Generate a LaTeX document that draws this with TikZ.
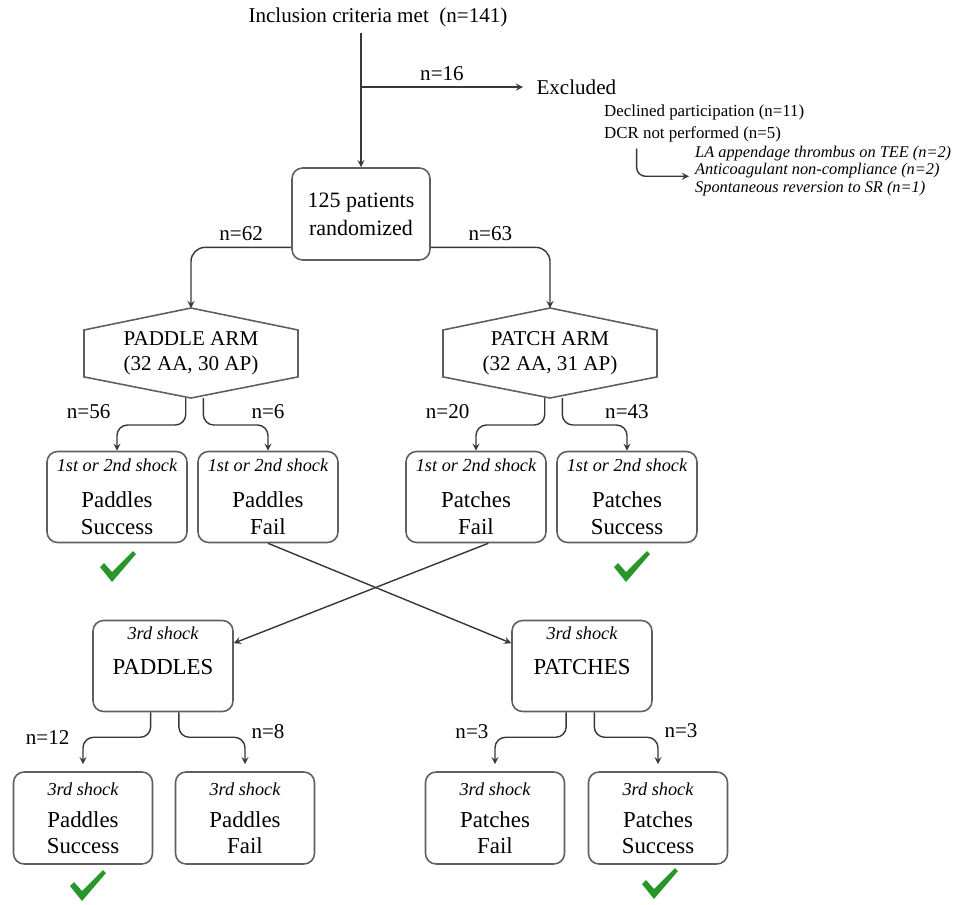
\documentclass[tikz,border=0pt]{standalone}
\usepackage{fontspec}
\setmainfont{Liberation Serif}
\usetikzlibrary{arrows}
\definecolor{linegray}{RGB}{55,55,55}
\definecolor{boxgray}{RGB}{95,95,95}
\definecolor{tickgreen}{RGB}{40,150,40}
\tikzstyle{box} = [rectangle, rounded corners=6pt, draw=boxgray, line width=0.9pt, minimum width=2.8cm, minimum height=1.82cm, inner sep=0pt, align=center, font=\fontsize{13}{15.5}\selectfont]
\tikzstyle{lowbox} = [box, minimum width=2.78cm, minimum height=1.84cm, font=\fontsize{13}{14.4}\selectfont]
\tikzstyle{armhex} = [minimum width=4.28cm, minimum height=1.8cm, outer sep=0pt, align=center, font=\fontsize{12}{14.4}\selectfont]
\tikzstyle{hexline} = [draw=boxgray, line width=0.9pt]
\tikzstyle{nlabel} = [font=\fontsize{12}{14}\selectfont]
\tikzstyle{arrow} = [draw=linegray, line width=0.8pt,->,>=stealth]
\tikzset{okmark/.pic={\fill[tickgreen] (-18,-1) -- (-14,-5) -- (-6,4) -- (15,-17) -- (18,-14) -- (-6,14) -- cycle;}}
\newcommand{\shock}[1]{{\fontsize{10.4}{12}\selectfont\itshape #1}}
\newcommand{\hexoutline}[1]{\draw[hexline] (#1.north) -- ([yshift=-12.5pt]#1.north east) -- ([yshift=12pt]#1.south east) -- (#1.south) -- ([yshift=12pt]#1.south west) -- ([yshift=-12.5pt]#1.north west) -- cycle;}

\begin{document}
\begin{tikzpicture}[x=0.02cm, y=-0.02cm]
    \useasboundingbox (0,0) rectangle (975,904);

    % enrolment and exclusions
    \node (incl) at (378,17) [nlabel] {Inclusion criteria met\enspace(n=141)};
    \node (rand) at (361,214) [box, minimum width=2.76cm, minimum height=1.84cm, font=\fontsize{12.5}{16}\selectfont] {125 patients\\randomized};
    \coordinate (split) at (361,87);
    \node (excl) at (523,87) [nlabel, anchor=west, inner xsep=7.5pt] {Excluded};
    \node (reasons) at (598,99) [anchor=north west, align=left, font=\fontsize{9.6}{12.5}\selectfont] {Declined participation (n=11)\\DCR not performed (n=5)};
    \node (subreasons) at (689,171) [anchor=west, align=left, font=\fontsize{9.3}{10.2}\selectfont\itshape] {LA appendage thrombus on TEE (n=2)\\Anticoagulant non-compliance (n=2)\\Spontaneous reversion to SR (n=1)};

    % randomized arms
    \node (paddle) at (191,353) [armhex] {PADDLE ARM\\(32 AA, 30 AP)};
    \hexoutline{paddle}
    \node (patch) at (550,353) [armhex] {PATCH ARM\\(32 AA, 31 AP)};
    \hexoutline{patch}

    % 1st or 2nd shock
    \node (padok) at (117,497) [box] {\shock{1st or 2nd shock}\\[5pt]Paddles\\Success};
    \node (padfail) at (268,497) [box] {\shock{1st or 2nd shock}\\[5pt]Paddles\\Fail};
    \node (patfail) at (476,497) [box] {\shock{1st or 2nd shock}\\[5pt]Patches\\Fail};
    \node (patok) at (627,497) [box] {\shock{1st or 2nd shock}\\[5pt]Patches\\Success};

    % crossover, 3rd shock
    \node (pad3) at (163,666) [box] {\shock{3rd shock}\\[4.5pt]PADDLES\\[2pt]\mbox{}};
    \node (pat3) at (582,666) [box] {\shock{3rd shock}\\[4.5pt]PATCHES\\[2pt]\mbox{}};

    \node (pad3ok) at (83,818) [lowbox] {\shock{3rd shock}\\[4pt]Paddles\\Success};
    \node (pad3fail) at (245,818) [lowbox] {\shock{3rd shock}\\[4pt]Paddles\\Fail};
    \node (pat3fail) at (495,818) [lowbox] {\shock{3rd shock}\\[4pt]Patches\\Fail};
    \node (pat3ok) at (658,818) [lowbox] {\shock{3rd shock}\\[4pt]Patches\\Success};

    \pic at (118,568) {okmark};
    \pic at (632,568) {okmark};
    \pic at (88,887) {okmark};
    \pic at (660,885) {okmark};

    % connectors
    \draw [arrow] (incl.south -| rand.north) -- (rand.north);
    \draw [arrow] (split) -- node[nlabel, above] {n=16} (excl.west);
    \draw [arrow, rounded corners=5pt] ([xshift=22pt]reasons.south west) |- ([yshift=-3pt]subreasons.west);

    \draw [arrow, rounded corners=8pt] ([yshift=-19pt]rand.west) -| node[nlabel, pos=0.25, above] {n=62} (paddle.north);
    \draw [arrow, rounded corners=8pt] ([yshift=-19pt]rand.east) -| node[nlabel, pos=0.25, above] {n=63} (patch.north);

    \draw [arrow, rounded corners=6pt] ([xshift=-3pt]paddle.south) -- ++(0,27) -| node[nlabel, pos=0.5, above left] {n=56} (padok.north);
    \draw [arrow, rounded corners=6pt] ([xshift=7pt]paddle.south) -- ++(0,27) -| node[nlabel, pos=0.5, above] {n=6} (padfail.north);
    \draw [arrow, rounded corners=6pt] ([xshift=-3pt]patch.south) -- ++(0,27) -| node[nlabel, pos=0.5, above left] {n=20} (patfail.north);
    \draw [arrow, rounded corners=6pt] ([xshift=7pt]patch.south) -- ++(0,27) -| node[nlabel, pos=0.5, above] {n=43} (patok.north);

    \draw [arrow] (padfail.south) -- ([yshift=13pt]pat3.west);
    \draw [arrow] ([xshift=7pt]patfail.south) -- ([yshift=13pt]pad3.east);

    \draw [arrow, rounded corners=6pt, shorten >=4pt] ([xshift=-7pt]pad3.south) -- ++(0,25) -| node[nlabel, pos=0.5, left, xshift=-4pt] {n=12} (pad3ok.north);
    \draw [arrow, rounded corners=6pt, shorten >=4pt] ([xshift=9pt]pad3.south) -- ++(0,25) -| node[nlabel, pos=0.5, right, yshift=3pt] {n=8} (pad3fail.north);
    \draw [arrow, rounded corners=6pt, shorten >=4pt] ([xshift=-9pt]pat3.south) -- ++(0,25) -| node[nlabel, pos=0.5, left, yshift=3pt] {n=3} (pat3fail.north);
    \draw [arrow, rounded corners=6pt, shorten >=4pt] ([xshift=7pt]pat3.south) -- ++(0,25) -| node[nlabel, pos=0.5, right, yshift=4pt] {n=3} (pat3ok.north);
\end{tikzpicture}
\end{document}
